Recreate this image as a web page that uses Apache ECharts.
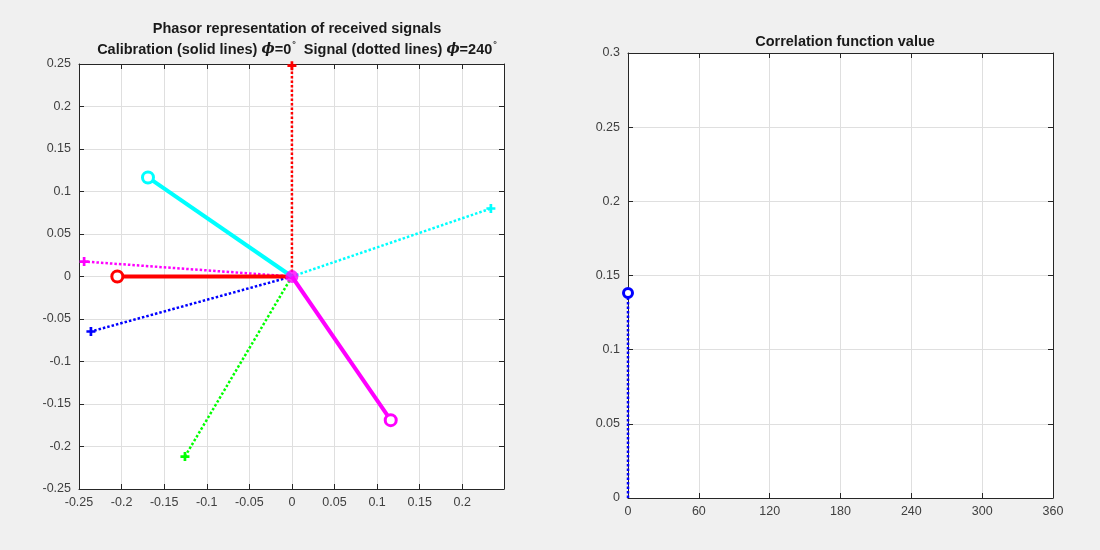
<!DOCTYPE html>
<html>
<head>
<meta charset="utf-8">
<script src="https://cdn.jsdelivr.net/npm/echarts@6/dist/echarts.min.js"></script>
<style>
html,body{margin:0;padding:0;background:#f0f0f0;}
#c{width:1100px;height:550px;}
</style>
</head>
<body>
<div id="c"></div>
<script>
// ---- data ----
const channels = ['red', 'cyan', 'magenta', 'green', 'blue'];
const calX = [-0.205, -0.169, 0.116, 0, 0];
const calY = [0, 0.1165, -0.169, 0, 0];
const sigX = [0, 0.2336, -0.244, -0.1256, -0.236];
const sigY = [0.248, 0.080, 0.0176, -0.2118, -0.0647];
const xTicksLeft = [-0.25, -0.2, -0.15, -0.1, -0.05, 0, 0.05, 0.1, 0.15, 0.2];
const corrAngles = [0];
const corrValues = [0.1382];
const corrTicks = [0, 60, 120, 180, 240, 300, 360];

// ---- styles ----
const colorMap = {red:'#ff0000', cyan:'#00ffff', magenta:'#ff00ff', green:'#00ff00', blue:'#0000ff'};
const FONT = '"Liberation Sans", Arial, Helvetica, sans-serif';
const plusPath = 'path://M3.5,0H6.5V3.5H10V6.5H6.5V10H3.5V6.5H0V3.5H3.5Z';
const axisCol = '#262626';
const labelCol = '#404040';
const TFS = 14.5;

function baseAxis(extra) {
  return Object.assign({
    axisLine: {show: true, onZero: false, lineStyle: {color: axisCol, width: 1}},
    axisTick: {show: true, inside: true, length: 5, lineStyle: {color: axisCol}},
    axisLabel: {color: labelCol, fontFamily: FONT, fontSize: 12.5},
    splitLine: {show: false},
    minorTick: {show: false}
  }, extra);
}

const series = [];
// signal: dotted lines with plus ends
channels.forEach((ch, i) => {
  series.push({
    type: 'line', xAxisIndex: 0, yAxisIndex: 0, z: 3,
    data: [{value: [0, 0], symbol: 'none'}, {value: [sigX[i], sigY[i]]}],
    lineStyle: {color: colorMap[ch], width: 2.5, type: [2.5, 2]},
    symbol: plusPath, symbolSize: 9,
    itemStyle: {color: colorMap[ch]},
    animation: false, silent: true
  });
});
// calibration: solid lines with open circle ends
channels.forEach((ch, i) => {
  if (calX[i] === 0 && calY[i] === 0) return;
  series.push({
    type: 'line', xAxisIndex: 0, yAxisIndex: 0, z: 4,
    data: [{value: [0, 0], symbol: 'none'}, {value: [calX[i], calY[i]]}],
    lineStyle: {color: colorMap[ch], width: 4, type: 'solid'},
    symbol: 'circle', symbolSize: 11,
    itemStyle: {color: '#ffffff', borderColor: colorMap[ch], borderWidth: 3},
    animation: false, silent: true
  });
});
// origin dot
series.push({
  type: 'scatter', xAxisIndex: 0, yAxisIndex: 0, z: 6,
  data: [[0, 0]], symbol: 'circle', symbolSize: 13,
  itemStyle: {color: '#ff00ff'}, animation: false, silent: true
});
// correlation stem
corrAngles.forEach((a, i) => {
  series.push({
    type: 'line', xAxisIndex: 2, yAxisIndex: 2, z: 4,
    data: [{value: [a, 0], symbol: 'none'}, {value: [a, corrValues[i]]}],
    lineStyle: {color: '#0000ff', width: 2.5, type: [2.5, 2]},
    symbol: 'circle', symbolSize: 9,
    itemStyle: {color: '#ffffff', borderColor: '#0000ff', borderWidth: 3},
    animation: false, silent: true
  });
});

const L = {min: -0.25, max: 0.249, interval: 0.05};
const fmt = v => { const r = Math.round(v * 100) / 100; return (Math.abs(r) < 1e-9) ? '0' : String(r); };

const option = {
  backgroundColor: '#f0f0f0',
  animation: false,
  title: [
    {text: 'Phasor representation of received signals', left: 292, top: 16, textAlign: 'center',
     textStyle: {fontFamily: FONT, fontSize: TFS, fontWeight: 'bold', color: '#1a1a1a'}},
    {text: '{b|Calibration (solid lines) }{i|ϕ}{b|=0}{s|°}{b|  Signal (dotted lines) }{i|ϕ}{b|=240}{s|°}',
     left: 292, top: 35, textAlign: 'center',
     textStyle: {rich: {
       b: {fontFamily: FONT, fontSize: TFS, fontWeight: 'bold', color: '#1a1a1a'},
       i: {fontFamily: '"DejaVu Serif", serif', fontSize: 14, fontStyle: 'italic', color: '#1a1a1a'},
       s: {fontFamily: FONT, fontSize: 9, color: '#1a1a1a', verticalAlign: 'top', padding: [0, 0, 10, 1]}
     }}},
    {text: 'Correlation function value', left: 840, top: 29, textAlign: 'center',
     textStyle: {fontFamily: FONT, fontSize: TFS, fontWeight: 'bold', color: '#1a1a1a'}}
  ],
  grid: [
    {left: 79, top: 64, width: 425, height: 425, show: true, backgroundColor: '#ffffff', borderWidth: 0},
    {left: 628, top: 53, width: 425, height: 445, show: true, backgroundColor: '#ffffff', borderWidth: 0}
  ],
  xAxis: [
    baseAxis({gridIndex: 0, type: 'value', position: 'bottom', min: L.min, max: L.max, interval: L.interval,
      axisLabel: {color: labelCol, fontFamily: FONT, fontSize: 12.5, margin: 7,
        formatter: v => xTicksLeft.some(t => Math.abs(t - v) < 1e-6) ? fmt(v) : ''},
      splitLine: {show: true, lineStyle: {color: '#dfdfdf', width: 1}}}),
    baseAxis({gridIndex: 0, type: 'value', position: 'top', min: L.min, max: L.max, interval: L.interval,
      axisLabel: {show: false}}),
    baseAxis({gridIndex: 1, type: 'value', position: 'bottom', min: 0, max: 360, interval: 60,
      axisLabel: {color: labelCol, fontFamily: FONT, fontSize: 12.5, margin: 7,
        formatter: v => corrTicks.includes(v) ? String(v) : ''},
      splitLine: {show: true, lineStyle: {color: '#dfdfdf', width: 1}}}),
    baseAxis({gridIndex: 1, type: 'value', position: 'top', min: 0, max: 360, interval: 60,
      axisLabel: {show: false}})
  ],
  yAxis: [
    baseAxis({gridIndex: 0, type: 'value', position: 'left', min: -0.25, max: 0.25, interval: 0.05,
      axisLabel: {color: labelCol, fontFamily: FONT, fontSize: 12.5, margin: 8, formatter: fmt},
      splitLine: {show: true, lineStyle: {color: '#dfdfdf', width: 1}}}),
    baseAxis({gridIndex: 0, type: 'value', position: 'right', min: -0.25, max: 0.25, interval: 0.05,
      axisLabel: {show: false}}),
    baseAxis({gridIndex: 1, type: 'value', position: 'left', min: 0, max: 0.3, interval: 0.05,
      axisLabel: {color: labelCol, fontFamily: FONT, fontSize: 12.5, margin: 8, formatter: fmt},
      splitLine: {show: true, lineStyle: {color: '#dfdfdf', width: 1}}}),
    baseAxis({gridIndex: 1, type: 'value', position: 'right', min: 0, max: 0.3, interval: 0.05,
      axisLabel: {show: false}})
  ],
  series: series
};

const chart = echarts.init(document.getElementById('c'), null, {renderer: 'canvas'});
chart.setOption(option);
</script>
</body>
</html>
